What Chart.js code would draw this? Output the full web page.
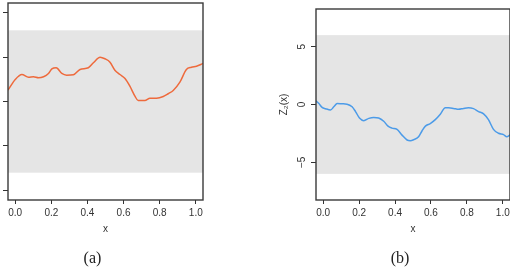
<!DOCTYPE html>
<html><head><meta charset="utf-8">
<script src="https://cdn.jsdelivr.net/npm/chart.js@4/dist/chart.umd.min.js"></script>
<style>
html,body{margin:0;padding:0;width:510px;height:270px;overflow:hidden;background:#fff;}
body{position:relative}
canvas{position:absolute;top:0}
#a{left:-60px}
#b{left:255px}
.cap{position:absolute;font-family:"Liberation Serif",serif;font-size:16px;line-height:16px;color:#222;top:250px;width:60px;text-align:center;}
</style></head><body>
<canvas id="a" width="270" height="270"></canvas>
<canvas id="b" width="270" height="270"></canvas>
<div class="cap" style="left:62.5px">(a)</div>
<div class="cap" style="left:370px">(b)</div>
<script>
// ---- data ----
const xA = [-0.04,0,0.037,0.074,0.101,0.129,0.157,0.184,0.203,0.227,0.258,0.285,0.322,0.359,0.405,0.433,0.470,0.497,0.525,0.552,0.580,0.608,0.635,0.663,0.681,0.718,0.746,0.783,0.820,0.847,0.875,0.912,0.948,0.976,1.004,1.04];
const zA = [1.27,2.47,3.03,2.73,2.78,2.66,2.78,3.15,3.67,3.79,3.15,2.96,3.0,3.6,3.79,4.35,4.98,4.8,4.42,3.52,3.03,2.58,1.72,0.6,0.11,0.11,0.37,0.37,0.56,0.87,1.24,2.17,3.6,3.85,3.97,4.27];
const xB = [-0.04,-0.024,-0.006,0.013,0.041,0.059,0.078,0.106,0.133,0.161,0.180,0.202,0.226,0.254,0.281,0.309,0.337,0.361,0.383,0.411,0.439,0.467,0.485,0.504,0.531,0.550,0.569,0.596,0.624,0.652,0.680,0.698,0.726,0.754,0.781,0.809,0.837,0.865,0.893,0.920,0.948,0.976,1.004,1.022,1.041];
const zB = [0.31,0.08,-0.25,-0.36,-0.47,-0.2,0.08,0.06,0.03,-0.2,-0.61,-1.17,-1.40,-1.2,-1.12,-1.17,-1.45,-1.87,-2.04,-2.15,-2.65,-3.07,-3.13,-3.04,-2.79,-2.29,-1.87,-1.65,-1.31,-0.84,-0.28,-0.28,-0.34,-0.42,-0.34,-0.28,-0.36,-0.61,-0.81,-1.31,-2.15,-2.49,-2.6,-2.79,-2.63];
const xTicks = [0,0.2,0.4,0.6,0.8,1.0];
const xTickLabels = ['0.0','0.2','0.4','0.6','0.8','1.0'];
const yTicksA = [-10,-5,0,5,10];
const yTicksB = [-5,0,5];
const yTickLabelsB = ['\u22125','0','5'];
const bandA = [-8,8];
const bandB = [-6,6];
const xRange = [-0.04,1.04];
const yRangeA = [-11.07,11.07];
const yRangeB = [-8.26,8.26];

const FONT = {family:'"Liberation Sans", Arial, sans-serif', size:10};
const INK = '#333';

const framePlugin = {
  id:'frame',
  beforeDatasetsDraw(chart, args, opts){
    const {ctx, chartArea:ca, scales:{y}} = chart;
    const t = y.getPixelForValue(opts.band[1]), b = y.getPixelForValue(opts.band[0]);
    ctx.save();
    ctx.fillStyle = '#e5e5e5';
    ctx.fillRect(ca.left, t, ca.right-ca.left, b-t);
    ctx.restore();
  },
  afterDraw(chart){
    const {ctx, chartArea:ca} = chart;
    ctx.save();
    ctx.strokeStyle = '#3a3a3a';
    ctx.lineWidth = 1.4;
    ctx.strokeRect(ca.left, ca.top, ca.right-ca.left, ca.bottom-ca.top);
    ctx.restore();
  }
};

function makeChart(id, xs, ys, color, yRange, yTicks, yLabels, band, yTitle, yWidth, padRight){
  return new Chart(document.getElementById(id), {
    type:'line',
    data:{datasets:[{
      data: xs.map((x,i)=>({x:x, y:ys[i]})),
      borderColor: color, borderWidth: 1.5, pointRadius: 0,
      cubicInterpolationMode:'monotone', fill:false
    }]},
    options:{
      responsive:false, animation:false, events:[],
      layout:{padding:{left:0, right:padRight, top:3, bottom:30}},
      plugins:{legend:{display:false}, tooltip:{enabled:false}, frame:{band:band}},
      scales:{
        x:{
          type:'linear', min:xRange[0], max:xRange[1],
          afterBuildTicks(s){ s.ticks = xTicks.map(v=>({value:v})); },
          afterFit(s){ s.height = 40; },
          grid:{drawOnChartArea:false, drawTicks:true, tickLength:4, color:INK, lineWidth:1},
          border:{display:false},
          ticks:{font:FONT, color:INK, padding:3, minRotation:0, maxRotation:0, autoSkip:false,
                 callback:(v,i)=>xTickLabels[i]},
          title:{display:true, text:'x', font:FONT, color:INK, padding:{top:0,bottom:5}}
        },
        y:{
          type:'linear', min:yRange[0], max:yRange[1],
          afterBuildTicks(s){ s.ticks = yTicks.map(v=>({value:v})); },
          afterFit(s){ s.width = yWidth; },
          grid:{drawOnChartArea:false, drawTicks:true, tickLength:5, color:INK, lineWidth:1},
          border:{display:false},
          ticks:{display: !!yLabels, font:FONT, color:INK, padding:3, minRotation:90, maxRotation:90,
                 crossAlign:'center', autoSkip:false,
                 callback:(v,i)=> yLabels ? yLabels[i] : ''},
          title:{display: !!yTitle, text: yTitle || '', font:FONT, color:INK, padding:{top:23,bottom:0}}
        }
      }
    },
    plugins:[framePlugin]
  });
}

makeChart('a', xA, zA, '#ee6a3c', yRangeA, yTicksA, null, bandA, null, 68, 7);
makeChart('b', xB, zB, '#4c9be8', yRangeB, yTicksB, yTickLabelsB, bandB, 'Z\u2082(x)', 61, 15);
</script>
</body></html>
